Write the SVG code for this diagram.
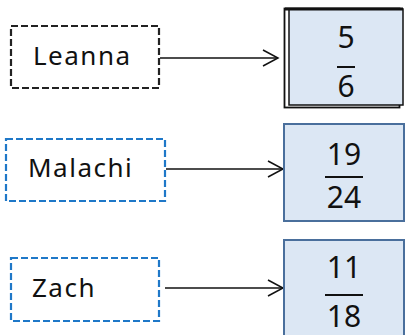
<svg xmlns="http://www.w3.org/2000/svg" width="405" height="335" viewBox="0 0 405 335">
<style>
.lbl{font-family:"Noto Sans","DejaVu Sans",sans-serif;font-size:26px;letter-spacing:1.5px;fill:#111}
.num{font-family:"Noto Sans","DejaVu Sans",sans-serif;font-size:30px;fill:#111;text-anchor:middle}
.dk{fill:none;stroke:#222;stroke-width:2.2;stroke-dasharray:7,3}
.db{fill:none;stroke:#1f78c8;stroke-width:2.2;stroke-dasharray:7,3}
.res{fill:#dce7f4;stroke:#4a6f9c;stroke-width:2}
.bar{stroke:#111;stroke-width:2}
.conn{stroke:#111;stroke-width:1.5;fill:none}
</style>
<defs>
<marker id="arr" markerWidth="20" markerHeight="20" refX="16" refY="9" orient="auto" markerUnits="userSpaceOnUse">
<path d="M1,1 L16,9 L1,17" fill="none" stroke="#111" stroke-width="1.5"/>
</marker>
</defs>
<g id="connectors">
<line class="conn" x1="160" y1="58" x2="278" y2="58" marker-end="url(#arr)"/>
<line class="conn" x1="166" y1="169" x2="283" y2="169" marker-end="url(#arr)"/>
<line class="conn" x1="165" y1="288" x2="283" y2="288" marker-end="url(#arr)"/>
</g>
<g id="leanna">
<rect class="dk" x="11" y="26" width="148" height="62"/>
<text class="lbl" x="33" y="65">Leanna</text>
</g>
<g id="malachi">
<rect class="db" x="6" y="139" width="159" height="62"/>
<text class="lbl" x="28" y="177">Malachi</text>
</g>
<g id="zach">
<rect class="db" x="11" y="258" width="148" height="63"/>
<text class="lbl" x="32" y="297">Zach</text>
</g>
<g id="frac1">
<rect x="284.5" y="8.5" width="115" height="99" fill="none" stroke="#111" stroke-width="1.8"/>
<rect x="289" y="9" width="114" height="96" fill="#dce7f4" stroke="#111" stroke-width="1.5"/>
<line x1="285" y1="9" x2="403" y2="9" stroke="#111" stroke-width="3"/>
<text class="num" x="346" y="48">5</text>
<line class="bar" x1="337" y1="67" x2="355" y2="67"/>
<text class="num" x="346" y="97">6</text>
</g>
<g id="frac2">
<rect class="res" x="284" y="124" width="120" height="97"/>
<text class="num" x="344" y="165">19</text>
<line class="bar" x1="325" y1="177" x2="363" y2="177"/>
<text class="num" x="344" y="208">24</text>
</g>
<g id="frac3">
<rect class="res" x="284" y="240" width="120" height="100"/>
<text class="num" x="344" y="278">11</text>
<line class="bar" x1="325" y1="295" x2="363" y2="295"/>
<text class="num" x="344" y="327">18</text>
</g>
</svg>
